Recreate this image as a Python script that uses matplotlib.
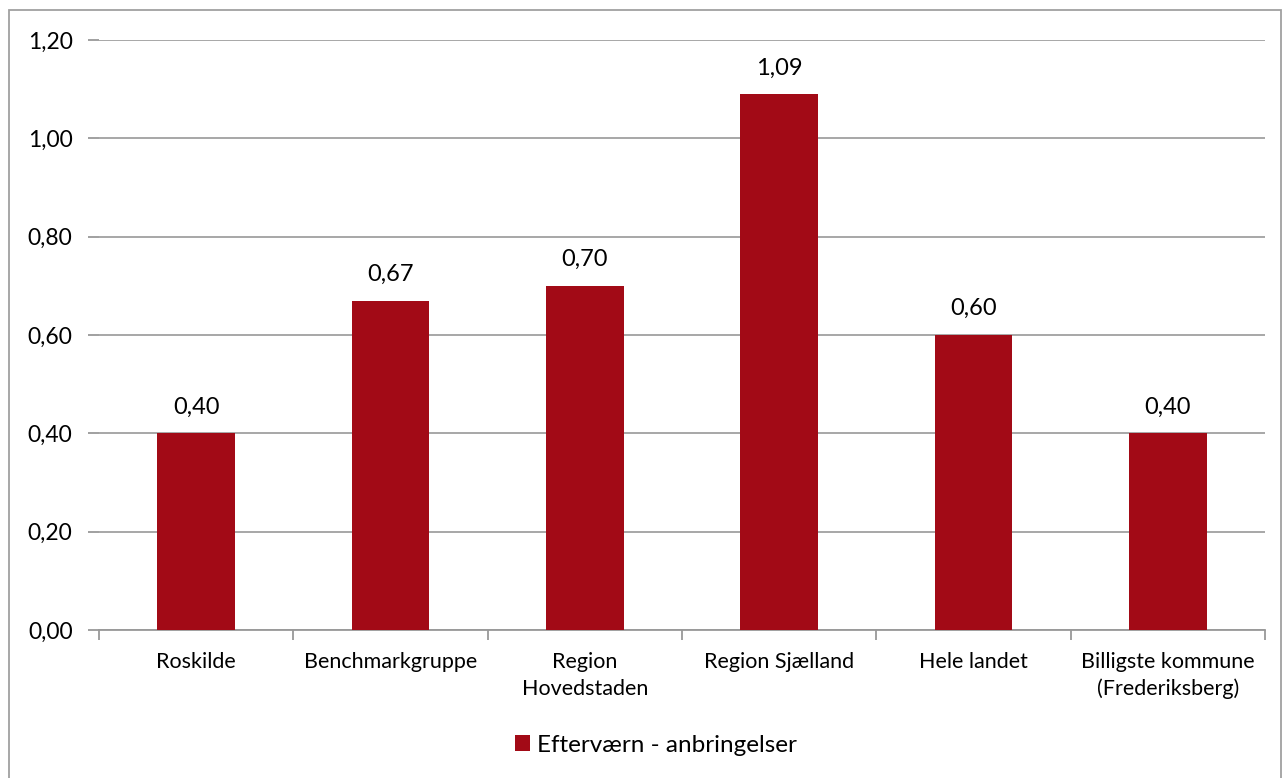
import matplotlib
matplotlib.use("Agg")
import matplotlib.pyplot as plt
from matplotlib.patches import Rectangle

categories = ["Roskilde", "Benchmarkgruppe", "Region\nHovedstaden", "Region Sjælland",
              "Hele landet", "Billigste kommune\n(Frederiksberg)"]
values = [0.40, 0.67, 0.70, 1.09, 0.60, 0.40]
labels = ["0,40", "0,67", "0,70", "1,09", "0,60", "0,40"]
series_name = "Efterværn - anbringelser"
yticks = [0.0, 0.2, 0.4, 0.6, 0.8, 1.0, 1.2]
ytick_labels = ["0,00", "0,20", "0,40", "0,60", "0,80", "1,00", "1,20"]

plt.rcParams['font.family'] = ['Lato', 'DejaVu Sans']
W, H = 1283, 778
fig = plt.figure(figsize=(W/100, H/100), dpi=100)
ax = fig.add_axes([99/W, 1-630/H, (1265-99)/W, (630-40)/H])

color = "#A20A16"
x = list(range(len(categories)))
bars = ax.bar(x, values, width=0.4, color=color, zorder=3, label=series_name)
for xi, v, lab in zip(x, values, labels):
    ax.text(xi, v + 0.032, lab, ha="center", va="bottom", fontsize=17, color="#000000")

ax.set_xlim(-0.5, len(categories) - 0.5)
ax.set_ylim(0, 1.2)
ax.set_yticks(yticks)
ax.set_yticklabels(ytick_labels, fontsize=16.5)
ax.yaxis.grid(True, color="#A0A0A0", linewidth=1.3, zorder=0)
ax.set_axisbelow(True)
for s in ["top", "right", "left"]:
    ax.spines[s].set_visible(False)
ax.spines["bottom"].set_color("#999999")
ax.spines["bottom"].set_linewidth(1.3)
ax.tick_params(axis="y", length=8, color="#999999", width=1.3, pad=11)
ax.set_xticks([i - 0.5 for i in range(len(categories) + 1)], minor=False)
ax.set_xticklabels([])
ax.tick_params(axis="x", which="major", length=7, color="#999999", width=1.3)
ax.set_xticks(x, minor=True)
ax.set_xticklabels(categories, minor=True, fontsize=15.5, linespacing=1.4)
ax.tick_params(axis="x", which="minor", length=0, pad=16)

leg = fig.legend(handles=[bars], labels=[series_name], loc="center",
                 bbox_to_anchor=(656/W, 1 - 745/H), frameon=False, fontsize=17.5,
                 handlelength=0.6, handleheight=0.6, handletextpad=0.3)

fig.patches.append(Rectangle((9/W, -0.1), (1281-9)/W, 1.1 - 10/H,
                             transform=fig.transFigure, fill=False,
                             edgecolor="#A0A0A0", linewidth=1.3))

fig.savefig("out.png", dpi=100, facecolor="white")
